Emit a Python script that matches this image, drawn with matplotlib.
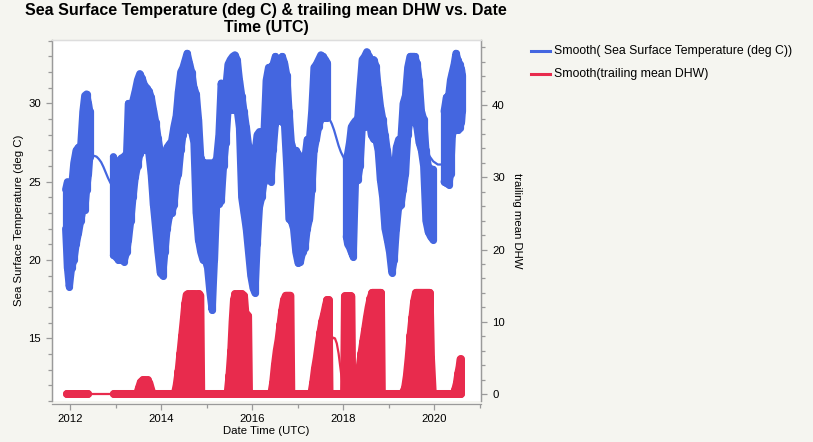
import numpy as np
import matplotlib
matplotlib.use("Agg")
import matplotlib.pyplot as plt
from matplotlib.lines import Line2D
from matplotlib.ticker import MultipleLocator

plt.rcParams['font.family'] = ['Liberation Sans', 'DejaVu Sans']

# ---------------- data (decimal year) ----------------
# Sea Surface Temperature: lower / upper envelope of the dense point cloud
sst_t = [2011.90, 2011.94, 2011.98, 2012.03, 2012.08, 2012.13, 2012.18, 2012.23, 2012.28, 2012.32,
         2012.36, 2012.40, 2012.43,
         2012.95, 2013.00, 2013.06, 2013.12, 2013.18, 2013.24, 2013.28, 2013.33, 2013.38, 2013.43,
         2013.48, 2013.53, 2013.58, 2013.63, 2013.68, 2013.73, 2013.78, 2013.83, 2013.88, 2013.93,
         2013.98, 2014.03, 2014.08, 2014.13, 2014.18, 2014.23, 2014.28, 2014.33, 2014.38, 2014.43,
         2014.48, 2014.53, 2014.57, 2014.62, 2014.67, 2014.72, 2014.77, 2014.82, 2014.87, 2014.92,
         2014.97, 2015.02, 2015.07, 2015.12, 2015.17, 2015.22, 2015.27, 2015.32, 2015.37, 2015.42,
         2015.47, 2015.52, 2015.57, 2015.62, 2015.67, 2015.72, 2015.77, 2015.82, 2015.87, 2015.92,
         2015.97, 2016.02, 2016.06, 2016.11, 2016.16, 2016.21, 2016.26, 2016.31, 2016.36, 2016.41,
         2016.46, 2016.51, 2016.56, 2016.61, 2016.66, 2016.71, 2016.76, 2016.81, 2016.86, 2016.91,
         2016.96, 2017.01, 2017.06, 2017.11, 2017.16, 2017.21, 2017.26, 2017.31, 2017.36, 2017.41,
         2017.46, 2017.51, 2017.56, 2017.61, 2017.65,
         2018.07, 2018.10, 2018.14, 2018.18, 2018.22, 2018.27, 2018.32, 2018.37, 2018.42, 2018.47,
         2018.52, 2018.57, 2018.62, 2018.67, 2018.72, 2018.77, 2018.82, 2018.87, 2018.92, 2018.97,
         2019.02, 2019.07, 2019.12, 2019.17, 2019.22, 2019.27, 2019.32, 2019.37, 2019.42, 2019.47,
         2019.52, 2019.57, 2019.62, 2019.67, 2019.72, 2019.77, 2019.82, 2019.87, 2019.92, 2019.97,
         2020.22, 2020.27, 2020.32, 2020.36, 2020.40, 2020.44, 2020.48, 2020.52, 2020.56, 2020.60,
         2020.62]
sst_lo = [22.0, 19.5, 18.3, 19.5, 20.0, 21.0, 21.7, 22.5, 23.2, 23.2,
          24.5, 25.5, 26.6,
          20.3, 20.2, 20.0, 20.0, 19.9, 20.5, 21.3, 22.5, 24.0, 25.3,
          26.0, 26.8, 27.0, 27.0, 27.3, 26.8, 25.5, 23.5, 22.0, 20.5,
          19.2, 19.0, 20.5, 22.0, 22.8, 23.0, 23.5, 25.0, 25.5, 27.0,
          28.0, 28.5, 28.5, 28.3, 28.2, 27.5, 23.0, 21.3, 20.5, 20.0,
          20.0, 19.5, 18.0, 16.8, 20.0, 23.6, 23.6, 23.8, 26.0, 27.5,
          29.6, 29.6, 29.6, 29.6, 29.6, 28.5, 24.0, 23.0, 22.0, 20.5,
          19.0, 18.2, 17.9, 21.0, 23.4, 24.0, 25.0, 26.5, 26.5, 25.0,
          27.0, 28.7, 28.9, 29.0, 28.8, 28.7, 26.0, 22.6, 22.5, 22.0,
          20.5, 19.8, 19.9, 20.5, 20.8, 22.0, 22.6, 24.5, 27.0, 27.7,
          28.5, 29.0, 29.1, 29.1, 29.1,
          21.5, 21.0, 20.8, 20.5, 20.2, 25.0, 25.1, 26.0, 28.5, 28.5,
          29.0, 29.0, 28.0, 27.7, 27.7, 27.0, 25.1, 24.0, 22.0, 21.3,
          20.5, 19.2, 20.0, 22.0, 23.4, 23.5, 24.5, 25.5, 28.0, 29.0,
          29.4, 29.0, 28.5, 27.5, 27.0, 26.0, 22.5, 21.8, 21.5, 21.3,
          25.0, 24.9, 24.8, 25.5, 28.0, 28.3, 28.3, 28.3, 28.4, 28.8,
          29.5]
sst_hi = [24.5, 25.0, 24.8, 24.6, 26.2, 27.0, 27.2, 27.2, 29.5, 30.5,
          30.6, 30.0, 29.5,
          26.6, 26.2, 25.8, 26.5, 26.6, 26.8, 30.0, 29.8, 30.2, 30.8,
          31.5, 31.9, 31.6, 31.2, 31.0, 30.8, 30.4, 29.6, 28.8, 27.8,
          26.9, 26.5, 26.6, 27.2, 27.4, 27.6, 28.5, 29.2, 30.8, 32.0,
          32.3, 32.8, 33.2, 32.6, 32.0, 31.0, 30.6, 29.0, 26.5, 26.2,
          26.2, 26.2, 26.2, 26.2, 26.2, 26.5, 28.0, 31.3, 30.2, 31.0,
          32.5, 32.8, 33.0, 33.1, 32.8, 31.5, 30.5, 29.5, 28.5, 27.3,
          27.0, 26.5, 26.8, 28.0, 28.2, 28.0, 28.1, 31.5, 32.3, 32.3,
          32.5, 33.0, 32.8, 32.8, 33.0, 32.6, 31.8, 29.5, 27.5, 27.0,
          27.0, 26.8, 26.0, 25.7, 26.5, 27.7, 27.7, 29.5, 32.3, 32.5,
          32.8, 33.1, 33.0, 32.8, 32.6,
          26.5, 26.8, 27.5, 28.5, 28.7, 28.9, 29.0, 31.0, 32.8, 33.0,
          33.3, 33.0, 32.5, 32.8, 32.4, 31.0, 29.8, 29.0, 28.0, 27.0,
          26.0, 25.5, 25.5, 27.2, 27.7, 27.7, 30.0, 30.5, 32.3, 33.0,
          33.0, 33.0, 32.6, 31.5, 29.5, 29.0, 27.0, 26.0, 25.8, 25.8,
          29.5, 30.4, 30.5, 31.5, 32.0, 32.5, 33.2, 32.8, 32.5, 32.2,
          31.8]

# Smooth( SST ) - visible where no points are drawn
sst_smooth_t = [2012.43, 2012.48, 2012.53, 2012.58, 2012.63, 2012.68, 2012.73, 2012.78, 2012.83, 2012.88, 2012.93,
                2017.65, 2017.70, 2017.75, 2017.80, 2017.85, 2017.90, 2017.95, 2018.00, 2018.05, 2018.09,
                2019.78, 2019.83, 2019.88, 2019.93, 2019.98, 2020.03, 2020.08, 2020.13, 2020.18, 2020.23]
sst_smooth_v = [26.6, 26.65, 26.65, 26.6, 26.45, 26.25, 25.95, 25.6, 25.25, 24.95, 24.7,
                29.1, 29.0, 28.7, 28.3, 27.8, 27.3, 26.9, 26.6, 26.4, 26.3,
                27.3, 27.0, 26.7, 26.5, 26.3, 26.2, 26.1, 26.1, 26.1, 26.1]

# trailing mean DHW (upper envelope of the point cloud, lower envelope is 0)
dhw_t = [2011.92, 2012.10, 2012.30, 2012.40,
         2012.96, 2013.10, 2013.30, 2013.47, 2013.51, 2013.55, 2013.60, 2013.65, 2013.70, 2013.74,
         2013.78, 2013.81, 2014.00, 2014.20, 2014.30, 2014.34, 2014.38, 2014.42, 2014.46, 2014.50,
         2014.53, 2014.56, 2014.60, 2014.65, 2014.70, 2014.75, 2014.80, 2014.84, 2014.86, 2014.88,
         2015.10, 2015.30, 2015.46, 2015.50, 2015.54, 2015.57, 2015.60, 2015.63, 2015.68, 2015.73,
         2015.78, 2015.82, 2015.85, 2015.88, 2015.91, 2015.93, 2016.10, 2016.30, 2016.42, 2016.46,
         2016.50, 2016.54, 2016.58, 2016.62, 2016.66, 2016.70, 2016.74, 2016.78, 2016.82, 2016.84,
         2016.86, 2017.10, 2017.30, 2017.34, 2017.38, 2017.42, 2017.46, 2017.50, 2017.54, 2017.58,
         2017.62, 2017.65, 2017.68, 2017.70, 2017.85, 2018.02, 2018.04, 2018.08, 2018.12, 2018.16,
         2018.18, 2018.20, 2018.28, 2018.32, 2018.36, 2018.40, 2018.44, 2018.48, 2018.52, 2018.56,
         2018.60, 2018.64, 2018.68, 2018.72, 2018.76, 2018.80, 2018.83, 2018.85, 2019.10, 2019.30,
         2019.36, 2019.40, 2019.44, 2019.48, 2019.52, 2019.56, 2019.60, 2019.64, 2019.68, 2019.72,
         2019.76, 2019.80, 2019.84, 2019.88, 2019.90, 2019.93, 2019.97, 2020.20, 2020.42, 2020.46,
         2020.50, 2020.53, 2020.56, 2020.58]
dhw_hi = [0, 0, 0, 0,
          0, 0, 0, 0, 0.8, 1.6, 1.9, 1.9, 1.9, 1.5,
          0.6, 0, 0, 0, 0, 1.2, 3.0, 5.5, 8.0, 10.5,
          12.5, 13.7, 13.8, 13.8, 13.8, 13.8, 13.8, 13.8, 13.6, 0,
          0, 0, 0, 2.5, 6.0, 10.0, 13.0, 13.8, 13.8, 13.8,
          13.8, 13.6, 11.2, 11.0, 10.8, 0, 0, 0, 0, 1.5,
          4.0, 6.0, 7.5, 9.5, 11.5, 13.0, 13.6, 13.6, 13.6, 13.6,
          0, 0, 0, 1.5, 3.5, 5.0, 6.8, 8.5, 10.0, 11.0,
          12.2, 13.0, 13.0, 0, 0, 0, 13.5, 13.5, 13.5, 13.5,
          13.5, 0, 0, 1.5, 3.5, 5.5, 7.2, 8.8, 10.5, 12.0,
          13.2, 14.0, 14.0, 14.0, 14.0, 14.0, 14.0, 0, 0, 0,
          0.8, 2.5, 5.0, 8.0, 10.5, 12.8, 14.0, 14.0, 14.0, 14.0,
          14.0, 14.0, 14.0, 14.0, 14.0, 5.0, 0, 0, 0, 0.5,
          1.5, 2.8, 3.8, 4.8]

# Smooth(trailing mean DHW) - visible parts
dhw_smooth_t = [2012.40, 2012.50, 2012.60, 2012.70, 2012.80, 2012.90, 2012.96,
                2017.70, 2017.74, 2017.78, 2017.82, 2017.86, 2017.90, 2017.94, 2017.98, 2018.02]
dhw_smooth_v = [0, 0, 0, 0, 0, 0, 0,
                6.6, 7.4, 7.8, 7.7, 7.0, 5.6, 3.6, 1.6, 0.3]

x_ticks = [2012, 2014, 2016, 2018, 2020]
x_tick_labels = ["2012", "2014", "2016", "2018", "2020"]

# ---------------- style ----------------
BLUE = '#4466E0'
RED = '#E82B4D'
BG = '#F5F5F0'
SPINE = '#9A9A9A'

W, H = 813, 442
fig = plt.figure(figsize=(W / 100, H / 100), dpi=100, facecolor=BG)
ax = fig.add_axes([52 / W, 1 - 401 / H, (481 - 52) / W, (401 - 40) / H])
ax.set_facecolor('white')
ax2 = ax.twinx()

def segments(t, arrs, gap):
    t = np.asarray(t, float)
    brk = np.where(np.diff(t) > gap)[0] + 1
    idx = np.split(np.arange(len(t)), brk)
    for ii in idx:
        yield [t[ii]] + [np.asarray(a, float)[ii] for a in arrs]

LW_PT = 8 * 72 / 100  # ~8 px thick marks
LW_B = LW_PT * 0.9

# SST cloud
for tt, lo, hi in segments(sst_t, [sst_lo, sst_hi], 0.075):
    ax.vlines(tt, lo, hi, colors=BLUE, lw=LW_B, capstyle='round', zorder=3)
    ax.plot(tt, lo, color=BLUE, lw=LW_B, solid_capstyle='round', solid_joinstyle='round', zorder=3)
    ax.plot(tt, hi, color=BLUE, lw=LW_B, solid_capstyle='round', solid_joinstyle='round', zorder=3)
for tt, v in segments(sst_smooth_t, [sst_smooth_v], 0.2):
    ax.plot(tt, v, color=BLUE, lw=1.6, zorder=2)

# DHW cloud
for tt, hi in segments(dhw_t, [dhw_hi], 0.35):
    ax2.vlines(tt, 0, hi, colors=RED, lw=LW_PT, capstyle='round', zorder=3)
    ax2.plot(tt, np.zeros_like(tt), color=RED, lw=LW_PT, solid_capstyle='round', zorder=3)
    ax2.plot(tt, hi, color=RED, lw=LW_PT, solid_capstyle='round', solid_joinstyle='round', zorder=3)
for tt, v in segments(dhw_smooth_t, [dhw_smooth_v], 0.2):
    ax2.plot(tt, v, color=RED, lw=1.6, zorder=2)

# ---------------- axes ----------------
ax.set_xlim(2011.6, 2021.03)
ax.set_ylim(11.0, 34.05)
ax2.set_ylim(-0.97, 49.0)

ax.set_xticks(x_ticks)
ax.set_xticklabels(x_tick_labels)
ax.xaxis.set_minor_locator(MultipleLocator(1))
ax.yaxis.set_major_locator(MultipleLocator(5))
ax.yaxis.set_minor_locator(MultipleLocator(1))
ax2.yaxis.set_major_locator(MultipleLocator(10))
ax2.yaxis.set_minor_locator(MultipleLocator(2))

for a in (ax, ax2):
    for s in a.spines.values():
        s.set_color(SPINE)
        s.set_linewidth(0.9)
    a.tick_params(which='both', colors=SPINE, labelcolor='black', labelsize=8.2, width=0.9)
    a.tick_params(which='major', length=4.5)
    a.tick_params(which='minor', length=3)
ax.spines['top'].set_color('#DDDDDD')
ax2.spines['top'].set_color('#DDDDDD')
ax.spines['bottom'].set_position(('outward', 2))
ax2.spines['bottom'].set_visible(False)
ax.tick_params(axis='x', pad=3)

ax.set_xlabel('Date Time (UTC)', fontsize=8.2, labelpad=1)
ax.set_ylabel('Sea Surface Temperature (deg C)', fontsize=8.2, labelpad=3)
ax2.set_ylabel('trailing mean DHW', fontsize=8.2, rotation=270, labelpad=12)

fig.text(266 / W, 1 - 3 / H, 'Sea Surface Temperature (deg C) & trailing mean DHW vs. Date\nTime (UTC)',
         ha='center', va='top', fontsize=11.5, fontweight='bold', linespacing=1.15)

# legend
for yy, col, lab in [(51, BLUE, 'Smooth( Sea Surface Temperature (deg C))'),
                     (74, RED, 'Smooth(trailing mean DHW)')]:
    fig.add_artist(Line2D([531 / W, 550 / W], [1 - yy / H, 1 - yy / H], color=col, lw=2.2,
                          transform=fig.transFigure))
    fig.text(554 / W, 1 - yy / H, lab, ha='left', va='center', fontsize=8.8)

fig.savefig('out.png', dpi=100, facecolor=BG)
